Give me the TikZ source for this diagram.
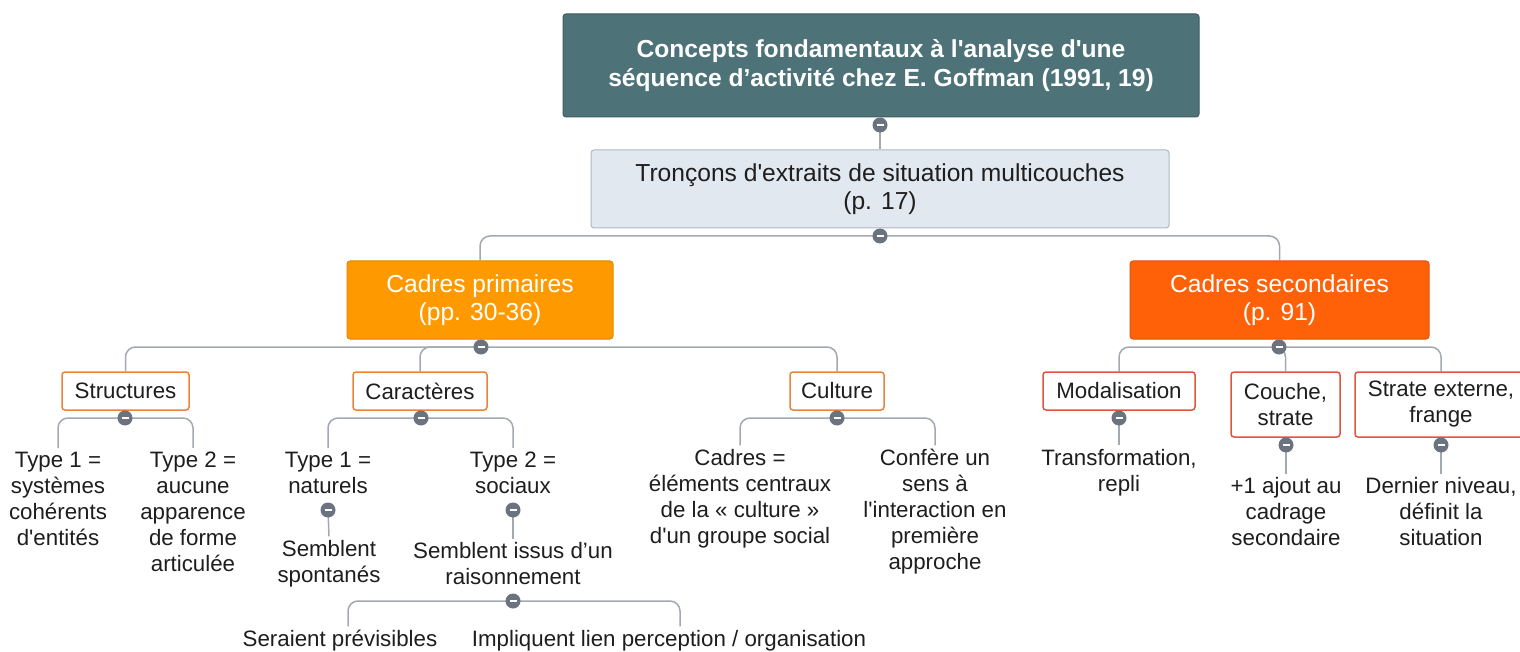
\documentclass[tikz,border=0pt]{standalone}
\usepackage{fontspec}
\setmainfont{Liberation Sans}
\usetikzlibrary{backgrounds}
\definecolor{rootc}{HTML}{4D7277}
\definecolor{rootb}{HTML}{3E5D61}
\definecolor{subc}{HTML}{E2E8F0}
\definecolor{subb}{HTML}{AEB8C4}
\definecolor{primc}{HTML}{FF9900}
\definecolor{primb}{HTML}{E38600}
\definecolor{secc}{HTML}{FF6108}
\definecolor{secb}{HTML}{E0520A}
\definecolor{oborder}{HTML}{E8853A}
\definecolor{rborder}{HTML}{E0553F}
\definecolor{connc}{HTML}{A3A9B1}
\definecolor{iconc}{HTML}{6B7280}
\definecolor{textc}{HTML}{1E1E1E}
\newcommand{\myq}{\textquotesingle}
\begin{document}
\begin{tikzpicture}[x=1pt,y=-1pt,
  bigf/.style={font=\fontsize{24.6}{28.5}\selectfont},
  smallf/.style={font=\fontsize{22.3}{26}\selectfont},
  rootbox/.style={bigf, font=\fontsize{24.6}{28.5}\selectfont\bfseries, fill=rootc, draw=rootb, line width=1pt, rounded corners=3pt, text=white, align=center, inner sep=0pt},
  subbox/.style={bigf, fill=subc, draw=subb, line width=1pt, rounded corners=3pt, text=textc, align=center, inner sep=0pt},
  primbox/.style={bigf, fill=primc, draw=primb, line width=1pt, rounded corners=3pt, text=white, align=center, inner sep=0pt, minimum height=78pt},
  secbox/.style={bigf, fill=secc, draw=secb, line width=1pt, rounded corners=3pt, text=white, align=center, inner sep=0pt, minimum height=78pt},
  obox/.style={smallf, fill=white, draw=oborder, line width=1.5pt, rounded corners=3pt, text=textc, align=center, inner sep=0pt, minimum height=38pt},
  rbox/.style={smallf, fill=white, draw=rborder, line width=1.5pt, rounded corners=3pt, text=textc, align=center, inner sep=0pt},
  leaf/.style={smallf, text=textc, align=center, inner xsep=0pt, inner ysep=4pt},
  conn/.style={draw=connc, line width=1.5pt, rounded corners=10pt},
  icon/.style={circle, fill=iconc, minimum size=15pt, inner sep=0pt,
    path picture={\draw[white, line width=1.6pt] ([xshift=-3.5pt]path picture bounding box.center) -- ([xshift=3.5pt]path picture bounding box.center);}}
]
\useasboundingbox (0,0) rectangle (1520,652);

% main boxes
\node[rootbox, minimum width=636pt, minimum height=103pt] (root) at (881,65.5)
  {Concepts fondamentaux à l\myq analyse d\myq une\\séquence d’activité chez E. Goffman (1991, 19)};
\node[subbox, minimum width=578pt, minimum height=78pt] (tron) at (880,189)
  {Tronçons d\myq extraits de situation multicouches\\(p. 17)};
\node[primbox, minimum width=266pt] (prim) at (480,300) {Cadres primaires\\(pp. 30-36)};
\node[secbox, minimum width=299pt] (sec) at (1279.5,300) {Cadres secondaires\\(p. 91)};

% level 3 boxes
\node[obox, minimum width=127pt] (str) at (125.5,391) {Structures};
\node[obox, minimum width=134pt] (car) at (420,391) {Caractères};
\node[obox, minimum width=94pt] (cul) at (837,391) {Culture};
\node[rbox, minimum width=152pt, minimum height=38pt] (mod) at (1119,391) {Modalisation};
\node[rbox, minimum width=109pt, minimum height=65pt] (cou) at (1285.5,404.5) {Couche,\\strate};
\node[rbox, minimum width=172pt, minimum height=65pt] (stra) at (1441,404.5) {Strate externe,\\frange};

% leaves
\node[leaf] (s1) at (58,499) {Type 1 =\\systèmes\\cohérents\\d\myq entités};
\node[leaf] (s2) at (193,512) {Type 2 =\\aucune\\apparence\\de forme\\articulée};
\node[leaf] (t1) at (328,473) {Type 1 =\\naturels};
\node[leaf] (t2) at (513,473) {Type 2 =\\sociaux};
\node[leaf] (sp) at (329,564) {Semblent\\spontanés};
\node[leaf] (si) at (513,564) {Semblent issus d’un\\raisonnement};
\node[leaf] (ser) at (340,641) {Seraient prévisibles};
\node[leaf] (imp) at (669,641) {Impliquent lien perception / organisation};
\node[leaf] (c1) at (740,499) {Cadres =\\éléments centraux\\de la « culture »\\d\myq un groupe social};
\node[leaf] (c2) at (935,512) {Confère un\\sens à\\l\myq interaction en\\première\\approche};
\node[leaf] (tr) at (1119,473) {Transformation,\\repli};
\node[leaf] (aj) at (1286,512) {+1 ajout au\\cadrage\\secondaire};
\node[leaf] (dn) at (1441,512) {Dernier niveau,\\définit la\\situation};

% collapse icons
\node[icon] (i0) at (880,125) {};
\node[icon] (i1) at (880,236) {};
\node[icon] (iP) at (481,347) {};
\node[icon] (iS) at (1279,347) {};
\node[icon] (iStr) at (125,418) {};
\node[icon] (iCar) at (421,418) {};
\node[icon] (iCul) at (837,418) {};
\node[icon] (iMod) at (1119,418) {};
\node[icon] (iCou) at (1286,445) {};
\node[icon] (iStra) at (1441,445) {};
\node[icon] (iT1) at (328,510) {};
\node[icon] (iT2) at (513,510) {};
\node[icon] (iSem) at (513,601) {};

\begin{scope}[on background layer]
  \fill[white] (0,0) rectangle (1520,652);
  \draw[conn] (i0.center) -- (tron.north);
  \draw[conn] (i1.center) -| (prim.north);
  \draw[conn] (i1.center) -| (sec.north);
  \draw[conn] (iP.center) -| (str.north);
  \draw[conn] (iP.center) -| (car.north);
  \draw[conn] (iP.center) -| (cul.north);
  \draw[conn] (iS.center) -| (mod.north);
  \draw[conn] (iS.center) -| (cou.north);
  \draw[conn] (iS.center) -| (stra.north);
  \draw[conn] (iStr.center) -| (s1.north);
  \draw[conn] (iStr.center) -| (s2.north);
  \draw[conn] (iCar.center) -| (t1.north);
  \draw[conn] (iCar.center) -| (t2.north);
  \draw[conn] (iT1.center) -- (sp.north);
  \draw[conn] (iT2.center) -- (si.north);
  \draw[conn] (iSem.center) -| ([xshift=8pt]ser.north);
  \draw[conn] (iSem.center) -| ([xshift=11pt]imp.north);
  \draw[conn] (iCul.center) -| (c1.north);
  \draw[conn] (iCul.center) -| (c2.north);
  \draw[conn] (iMod.center) -- (tr.north);
  \draw[conn] (iCou.center) -- (aj.north);
  \draw[conn] (iStra.center) -- (dn.north);
\end{scope}
\end{tikzpicture}
\end{document}
